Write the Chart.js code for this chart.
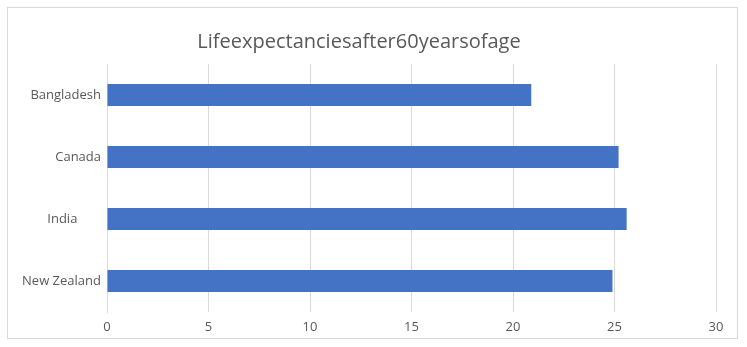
<!DOCTYPE html>
<html>
<head>
<meta charset="utf-8">
<script src="https://cdn.jsdelivr.net/npm/chart.js@4.4.0/dist/chart.umd.min.js"></script>
<style>
  html, body { margin: 0; padding: 0; background: #fff; }
  #wrap { width: 747px; height: 347px; }
</style>
</head>
<body>
<div id="wrap"><canvas id="chart" width="747" height="347"></canvas></div>
<script>
var chartTitle = 'Lifeexpectanciesafter60yearsofage';
var countries = ['Bangladesh', 'Canada', 'India       ', 'New Zealand'];
var lifeYears = [20.9, 25.2, 25.6, 24.9];
var xTicks = [0, 5, 10, 15, 20, 25, 30];

var fontFam = '"Open Sans", "Liberation Sans", sans-serif';

// outer frame + title, drawn by hand like the office chart
var frameAndTitle = {
  id: 'frameAndTitle',
  beforeDraw: function(chart) {
    var ctx = chart.ctx;
    ctx.save();
    ctx.fillStyle = '#fff';
    ctx.fillRect(0, 0, chart.width, chart.height);
    ctx.strokeStyle = '#d9d9d9';
    ctx.lineWidth = 1;
    ctx.strokeRect(7.5, 7.5, 730, 331);
    ctx.restore();
  },
  afterDraw: function(chart) {
    var ctx = chart.ctx;
    ctx.save();
    ctx.font = '20px ' + fontFam;
    ctx.fillStyle = '#595959';
    ctx.textAlign = 'center';
    ctx.textBaseline = 'middle';
    ctx.fillText(chartTitle, 359, 42);
    ctx.restore();
  }
};

var ctx = document.getElementById('chart').getContext('2d');
new Chart(ctx, {
  type: 'bar',
  data: {
    labels: countries,
    datasets: [{
      data: lifeYears,
      backgroundColor: '#4472C4',
      borderWidth: 0,
      categoryPercentage: 1,
      barPercentage: 0.355
    }]
  },
  options: {
    indexAxis: 'y',
    responsive: false,
    animation: false,
    layout: { padding: { left: 0, top: 64, right: 31, bottom: 0 } },
    plugins: { legend: { display: false }, tooltip: { enabled: false }, title: { display: false } },
    scales: {
      x: {
        min: 0, max: 30,
        afterBuildTicks: function(axis) {
          axis.ticks = xTicks.map(function(v) { return { value: v }; });
        },
        afterFit: function(axis) { axis.height = 35; },
        grid: { color: '#d9d9d9', drawTicks: false },
        border: { display: false },
        ticks: { color: '#595959', padding: 7, font: { family: fontFam, size: 13 } }
      },
      y: {
        afterFit: function(axis) { axis.width = 107; },
        grid: { display: false, drawTicks: false },
        border: { display: true, color: '#d9d9d9' },
        ticks: { color: '#595959', padding: 6, font: { family: fontFam, size: 13 } }
      }
    }
  },
  plugins: [frameAndTitle]
});
</script>
</body>
</html>
